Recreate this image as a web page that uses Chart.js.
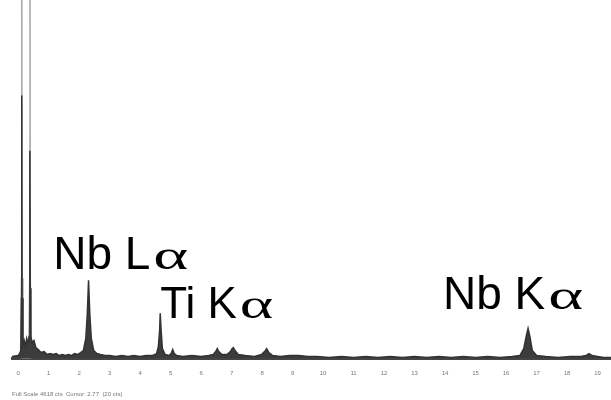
<!DOCTYPE html>
<html>
<head>
<meta charset="utf-8">
<script src="https://cdn.jsdelivr.net/npm/chart.js@4.4.1/dist/chart.umd.min.js"></script>
<style>
  html, body { margin: 0; padding: 0; background: #fff; }
  #wrap { width: 611px; height: 400px; position: relative; }
</style>
</head>
<body>
<div id="wrap"><canvas id="spectrum"></canvas></div>
<script>
// Spectrum (energy in keV, counts in picture units)
const energy = [
  -0.20, 0.00, 0.05, 0.09, 0.11, 0.12, 0.13, 0.16, 0.20, 0.24,
  0.28, 0.32, 0.36, 0.38, 0.39, 0.40, 0.42, 0.46, 0.52, 0.58,
  0.66, 0.75, 0.85, 0.95, 1.05, 1.15, 1.25, 1.35, 1.45, 1.55,
  1.65, 1.75, 1.85, 1.95, 2.05, 2.14, 2.22, 2.27, 2.31, 2.35,
  2.40, 2.48, 2.58, 2.70, 2.85, 3.00, 3.20, 3.40, 3.60, 3.80,
  4.00, 4.20, 4.40, 4.54, 4.60, 4.64, 4.66, 4.69, 4.73, 4.82,
  4.95, 5.02, 5.07, 5.12, 5.20, 5.40, 5.70, 6.00, 6.25, 6.40,
  6.48, 6.53, 6.58, 6.68, 6.85, 6.96, 7.02, 7.06, 7.11, 7.22,
  7.45, 7.75, 7.98, 8.08, 8.15, 8.22, 8.35, 8.60, 8.90, 9.20,
  9.50, 9.80, 10.2, 10.6, 11.0, 11.4, 11.8, 12.2, 12.6, 13.0,
  13.4, 13.8, 14.2, 14.6, 15.0, 15.4, 15.8, 16.2, 16.45, 16.58,
  16.66, 16.72, 16.78, 16.86, 17.00, 17.3, 17.7, 18.1, 18.45, 18.62,
  18.72, 18.82, 19.0, 19.2, 19.44
];
const counts = [
  2, 3, 5, 8, 60, 262, 60, 14, 18, 12,
  20, 15, 22, 70, 207, 70, 22, 16, 18, 11,
  9, 6, 7, 4, 5, 4, 5, 3, 4, 3,
  4, 3, 5, 4, 6, 8, 20, 45, 78, 45,
  20, 8, 5, 4, 3, 3, 2, 3, 2, 3,
  2, 3, 3, 5, 12, 28, 45, 28, 10, 4,
  3, 5, 9, 5, 3, 2, 3, 2, 3, 4,
  7, 10, 7, 4, 4, 7, 10, 11, 8, 4,
  3, 2, 4, 7, 10, 6, 3, 2, 3, 3,
  2, 2, 1, 2, 1, 2, 1, 2, 1, 2,
  1, 2, 1, 2, 1, 2, 1, 2, 3, 10,
  22, 30, 22, 8, 3, 2, 1, 2, 2, 3,
  5, 3, 2, 1, 1
];

// off-scale low energy lines (light grey part above the dark trace)
const overflowEnergy = [0.08, 0.11, 0.12, 0.13, 0.16, 0.35, 0.38, 0.39, 0.40, 0.43];
const overflowCounts = [0, 80, 400, 80, 0, 0, 80, 400, 80, 0];

const xTicks = [0, 1, 2, 3, 4, 5, 6, 7, 8, 9, 10, 11, 12, 13, 14, 15, 16, 17, 18, 19];

const peakLabels = [
  { name: 'Nb L', greek: 'α', keV: 1.15, counts: 89, size: 46 },
  { name: 'Ti K', greek: 'α', keV: 4.66, counts: 40, size: 44 },
  { name: 'Nb K', greek: 'α', keV: 13.93, counts: 49, size: 46 }
];

const statusLine = 'Full Scale 4618 cts  Cursor: 2.77  (20 cts)';

function toPoints(xs, ys) {
  return xs.map((x, i) => ({ x: x, y: ys[i] }));
}

// Draws the element labels next to their peaks (wide symbol-style alpha)
const peakLabelPlugin = {
  id: 'peakLabels',
  afterDatasetsDraw(chart) {
    const ctx = chart.ctx;
    const xs = chart.scales.x;
    const ys = chart.scales.y;
    ctx.save();
    ctx.fillStyle = '#000';
    ctx.textBaseline = 'alphabetic';
    ctx.textAlign = 'left';
    peakLabels.forEach(l => {
      const px = xs.getPixelForValue(l.keV);
      const py = ys.getPixelForValue(l.counts);
      ctx.font = l.size + 'px "Liberation Sans", Arial, sans-serif';
      ctx.fillText(l.name, px, py);
      const w = ctx.measureText(l.name).width;
      ctx.save();
      ctx.translate(px + w + 3, py);
      ctx.scale(1.45, 0.9);
      ctx.font = l.size + 'px "Liberation Serif", "Times New Roman", serif';
      ctx.fillText(l.greek, 0, 0);
      ctx.restore();
    });
    ctx.restore();
  }
};

new Chart(document.getElementById('spectrum'), {
  type: 'line',
  data: {
    datasets: [
      {
        label: 'spectrum',
        data: toPoints(energy, counts),
        borderColor: '#333',
        backgroundColor: '#3c3c3c',
        borderWidth: 1.5,
        pointRadius: 0,
        tension: 0,
        fill: 'origin',
        order: 0
      },
      {
        label: 'overflow',
        data: toPoints(overflowEnergy, overflowCounts),
        borderColor: '#a8a8a8',
        backgroundColor: '#c8c8c8',
        borderWidth: 1.5,
        pointRadius: 0,
        tension: 0,
        fill: 'origin',
        order: 1
      }
    ]
  },
  options: {
    responsive: true,
    maintainAspectRatio: false,
    animation: false,
    layout: { padding: { left: 12, right: 0, top: 0, bottom: 2 } },
    plugins: {
      legend: { display: false },
      tooltip: { enabled: false }
    },
    scales: {
      x: {
        type: 'linear',
        min: -0.2,
        max: 19.44,
        grid: { display: false },
        border: { display: true, color: '#444', width: 3 },
        afterBuildTicks: scale => {
          scale.ticks = xTicks.map(v => ({ value: v }));
        },
        ticks: {
          autoSkip: false,
          maxRotation: 0,
          padding: 3,
          color: '#777',
          font: { size: 6, family: '"Liberation Sans", Arial, sans-serif' }
        },
        title: {
          display: true,
          text: statusLine,
          align: 'start',
          color: '#777',
          padding: { top: 11, bottom: 0 },
          font: { size: 6, family: '"Liberation Sans", Arial, sans-serif' }
        }
      },
      y: {
        display: false,
        min: 0,
        max: 357
      }
    }
  },
  plugins: [peakLabelPlugin]
});
</script>
</body>
</html>
